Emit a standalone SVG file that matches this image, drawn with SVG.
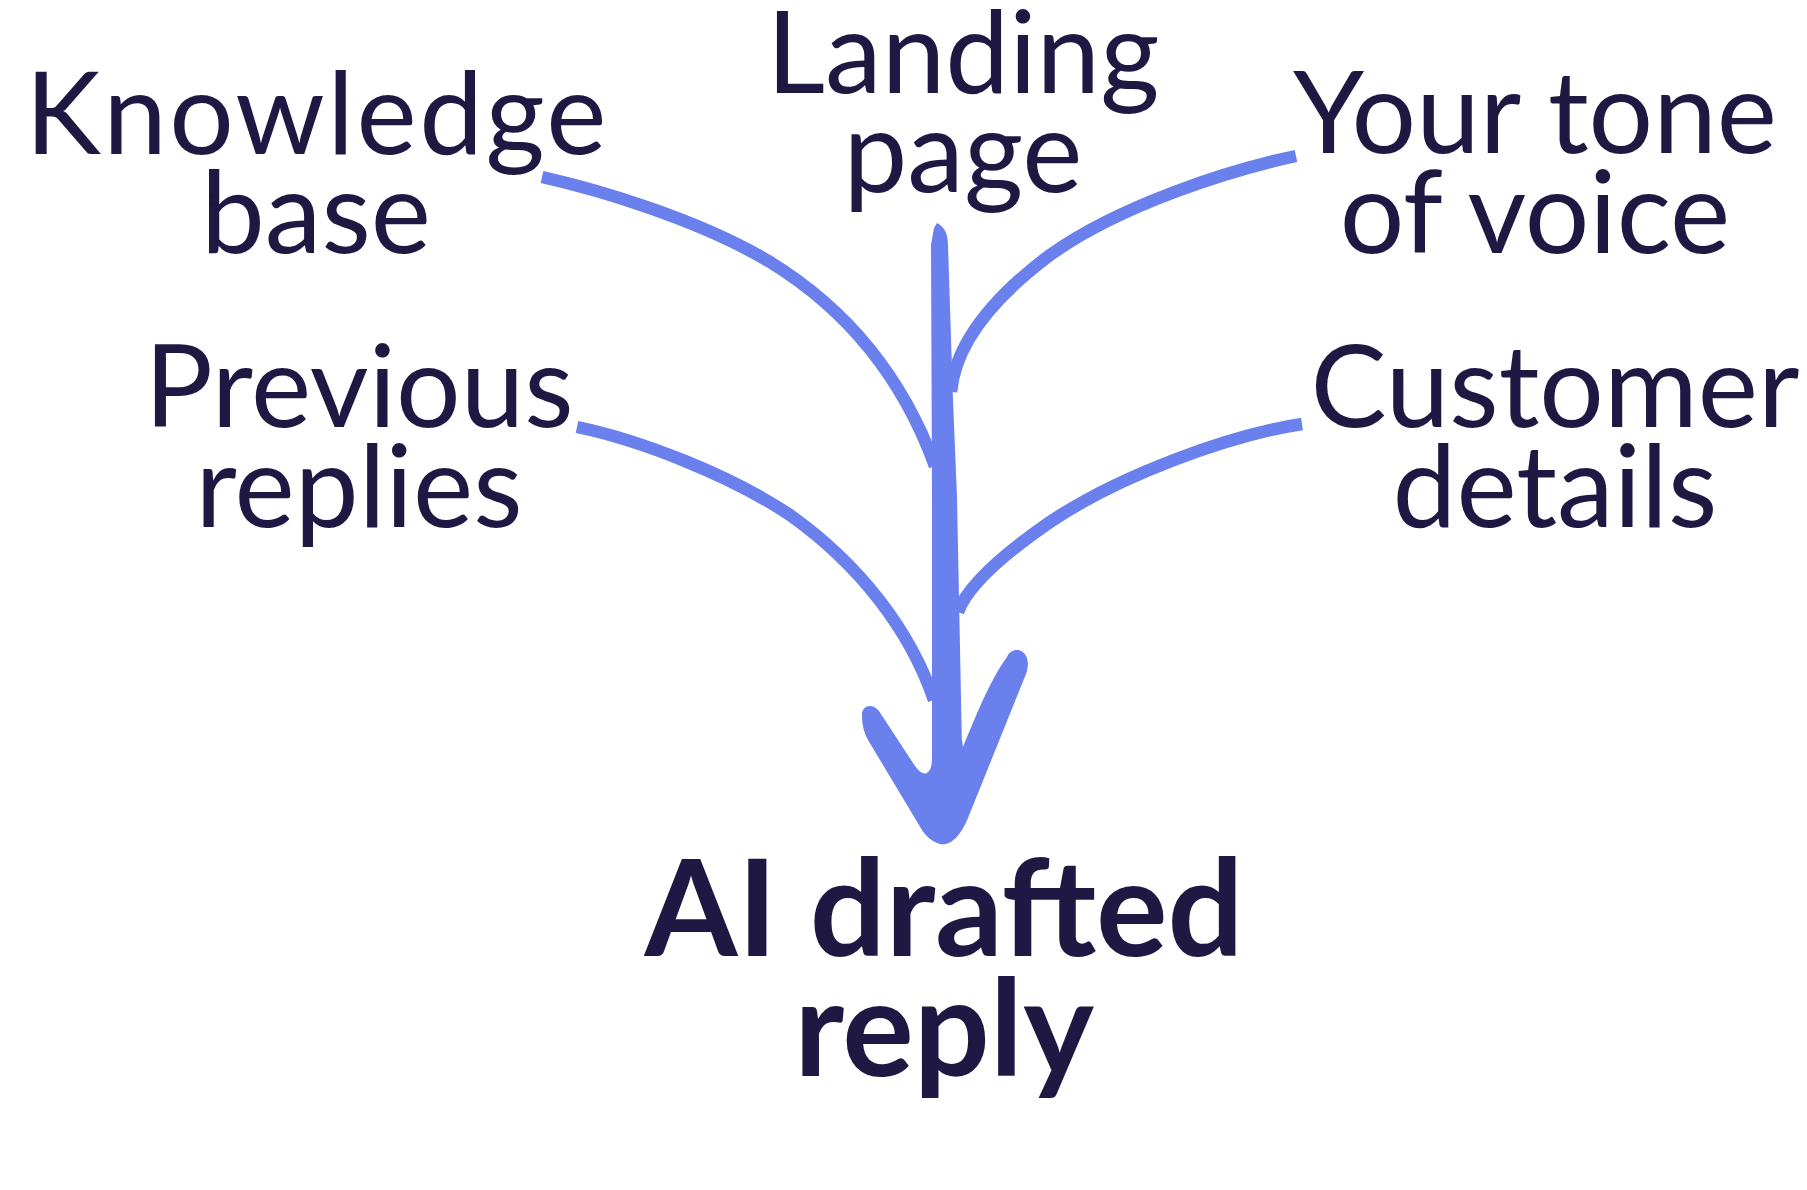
<svg xmlns="http://www.w3.org/2000/svg" width="1807" height="1190" viewBox="0 0 1807 1190">
<style>
.lbl{font-family:Lato,"Noto Sans","Liberation Sans",sans-serif;font-size:114px;fill:#1e1843;text-anchor:middle}
.out{font-family:Lato,"Noto Sans","Liberation Sans",sans-serif;font-size:134px;font-weight:bold;fill:#1e1843;text-anchor:middle}
.flow{fill:none;stroke:#6a80ec;stroke-width:12.5;stroke-linecap:butt}
.solid{fill:#6a80ec}
</style>
<rect width="1807" height="1190" fill="#ffffff"/>
<g id="connectors">
<path class="flow" d="M 542,177 C 600,190 700,220 770,262 C 840,305 900,370 935,466"/>
<path class="flow" d="M 577,427 C 640,440 730,475 790,515 C 860,565 910,630 934,700"/>
<path class="flow" d="M 1296,156 C 1230,170 1120,205 1050,255 C 990,300 955,345 951,392"/>
<path class="flow" d="M 1302,424 C 1230,435 1120,475 1050,522 C 995,560 966,590 958,612"/>
<path class="solid" d="M 931,245 L 934,228 L 937,223 C 943,226 948,232 948,245 L 953,400 L 957,497 L 962,748 L 963,780 L 932,780 L 932,497 Z"/>
<path class="solid" d="M 862,716 C 861,706 872,702 879,711 L 913,763 C 918,771 923,775 927,773 C 931,770 932,765 932,758 L 932,740 L 962,740 L 963,747 C 975,718 990,680 1007,657 C 1011,648 1022,648 1026,656 C 1029,662 1028,668 1026,674 L 970,813 C 960,840 948,846 940,844 C 932,842 926,836 922,830 L 868,740 C 864,733 862,725 862,716 Z"/>
</g>
<g id="node-knowledge"><text class="lbl" x="317" y="154" letter-spacing="2.4">Knowledge</text><text class="lbl" x="316" y="253">base</text></g>
<g id="node-landing"><text class="lbl" x="963" y="93">Landing</text><text class="lbl" x="963" y="192">page</text></g>
<g id="node-tone"><text class="lbl" x="1535" y="153">Your tone</text><text class="lbl" x="1535" y="253">of voice</text></g>
<g id="node-previous"><text class="lbl" x="359" y="427">Previous</text><text class="lbl" x="359" y="527">replies</text></g>
<g id="node-customer"><text class="lbl" x="1555" y="427">Customer</text><text class="lbl" x="1555" y="527">details</text></g>
<g id="node-reply"><text class="out" x="944" y="956">AI drafted</text><text class="out" x="944" y="1076">reply</text></g>
</svg>
